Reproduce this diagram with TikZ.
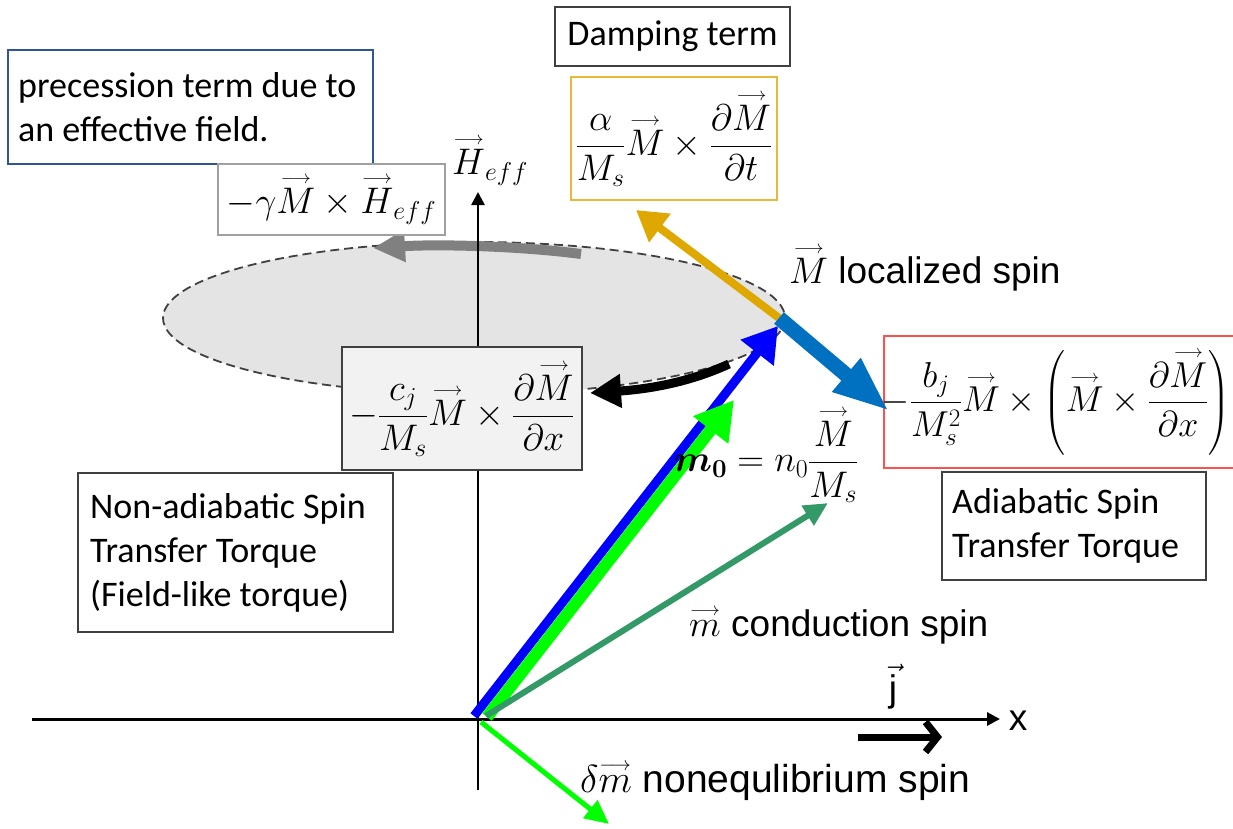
\RequirePackage{fix-cm}
\documentclass[tikz,border=0pt]{standalone}
\usepackage{amsmath,bm}
\usepackage[no-math]{fontspec}
\setmainfont{Carlito}
\newfontfamily\arialfont{Liberation Sans}
\usetikzlibrary{arrows.meta}
\newcommand{\va}[1]{{\overset{\scriptscriptstyle\longrightarrow}{#1}}}
\definecolor{goldc}{RGB}{222,168,0}
\definecolor{steelc}{RGB}{0,112,192}
\definecolor{purebl}{RGB}{0,0,255}
\definecolor{puregr}{RGB}{0,255,0}
\definecolor{dgreen}{RGB}{51,153,102}
\definecolor{garrow}{RGB}{128,128,128}
\definecolor{ellfill}{RGB}{228,228,228}
\definecolor{ellline}{RGB}{64,64,64}
\definecolor{goldbox}{RGB}{232,184,56}
\definecolor{redbox}{RGB}{255,80,80}
\definecolor{bluebox}{RGB}{47,85,151}
\definecolor{darkframe}{RGB}{64,64,64}
\definecolor{grayframe}{RGB}{160,160,160}
\definecolor{cjfill}{RGB}{242,242,242}
\begin{document}
\begin{tikzpicture}[x=1pt,y=-1pt,
  txt/.style={font=\fontsize{36}{44}\selectfont, align=left, anchor=west, inner sep=0pt},
  lab/.style={font=\arialfont\fontsize{37}{44}\selectfont, inner sep=0pt},
  mathlab/.style={font=\fontsize{37}{44}\selectfont, inner sep=0pt},
  boxframe/.style={draw=#1, line width=1.3pt, inner sep=0pt, outer sep=0pt},
]
\useasboundingbox (0,0) rectangle (1233,829);

% coordinates
\coordinate (O) at (478,718);
\coordinate (blueS) at (474,716);
\coordinate (Mtip) at (778,326);
\coordinate (Mbase) at (779,318);
\coordinate (goldtip) at (636,210);
\coordinate (steeltip) at (889,411);
\coordinate (greenS) at (487,717);
\coordinate (greentip) at (734,400);
\coordinate (dgS) at (486,716);
\coordinate (dgtip) at (828,503);
\coordinate (gdS) at (481,722);
\coordinate (gdtip) at (609,824);
\coordinate (xS) at (32,719);
\coordinate (xE) at (1000,719);
\coordinate (yS) at (478,790);
\coordinate (yE) at (478,192);
\coordinate (jS) at (858,737);
\coordinate (jE) at (942,737);
\coordinate (grS) at (581,254);
\coordinate (grE) at (373,248);
\coordinate (bkS) at (729,364);
\coordinate (bkE) at (590,393);

% precession ellipse
\draw[fill=ellfill, draw=ellline, line width=1.8pt, dash pattern=on 9pt off 5pt]
  (474,318) ellipse [x radius=311, y radius=76];

% gray precession arrow
\draw[garrow, line width=10pt, -{Triangle[length=32pt,width=30pt]}]
  (grS) .. controls (520,246) and (440,244) .. (grE);

% axes
\draw[line width=3pt, -{Triangle[length=13pt,width=13pt]}] (xS) -- (xE);
\draw[line width=2.5pt, -{Triangle[length=13pt,width=13pt]}] (yS) -- (yE);

% boxes
\node[boxframe=bluebox, minimum width=365pt, minimum height=114pt] (prec) at (190.5,107) {};
\node[txt] (prectext) at (18,107) {precession term due to\\an effective field.};
\node[boxframe=grayframe, fill=white, minimum width=227pt, minimum height=71pt] (heffbox) at (331.5,199.5)
  {\fontsize{37}{44}\selectfont$-\gamma\va{M}\times\va{H}_{eff}$};
\node[boxframe=darkframe, minimum width=235pt, minimum height=59pt, font=\fontsize{36}{44}\selectfont] (damp) at (672.5,36.5) {Damping term};
\node[boxframe=goldbox, fill=white, minimum width=206pt, minimum height=123pt] (gold) at (674,138.5)
  {\fontsize{37}{44}\selectfont$\displaystyle\frac{\alpha}{M_s}\va{M}\times\frac{\partial\va{M}}{\partial t}$};

% black field-like arrow
\draw[black, line width=9pt, -{Triangle[length=31pt,width=32pt]}]
  (bkS) .. controls (690,382) and (650,389) .. (bkE);

\node[boxframe=darkframe, fill=cjfill, minimum width=240pt, minimum height=123pt] (cj) at (462,408.5)
  {\fontsize{37}{44}\selectfont$\displaystyle-\frac{c_j}{M_s}\va{M}\times\frac{\partial\va{M}}{\partial x}$};

\node[boxframe=darkframe, minimum width=315pt, minimum height=159pt] (nonad) at (235.5,552.5) {};
\node[txt] (nonadtext) at (90,552.5) {Non-adiabatic Spin\\Transfer Torque\\(Field-like torque)};

\node[boxframe=redbox, minimum width=360pt, minimum height=132pt] (red) at (1064,402) {};
\node[inner sep=0pt] (redtext) at (1056,402)
  {\fontsize{36}{44}\selectfont$\displaystyle-\frac{b_j}{M_s^2}\va{M}\times\left(\va{M}\times\frac{\partial\va{M}}{\partial x}\right)$};

\node[boxframe=darkframe, minimum width=264pt, minimum height=108pt] (adiab) at (1074,526) {};
\node[txt] (adiabtext) at (952,526) {Adiabatic Spin\\Transfer Torque};

% spin vectors
\draw[purebl, line width=9pt, -{Triangle[length=34pt,width=40pt]}] (blueS) -- (Mtip);
\draw[puregr, line width=12pt, -{Triangle[length=38pt,width=42pt]}] (greenS) -- (greentip);
\draw[dgreen, line width=6pt, -{Triangle[length=24pt,width=22pt]}] (dgS) -- (dgtip);
\draw[puregr, line width=5pt, -{Triangle[length=24pt,width=22pt]}] (gdS) -- (gdtip);
\draw[goldc, line width=8pt, -{Triangle[length=30pt,width=34pt]}] (Mbase) -- (goldtip);
\draw[steelc, line width=15pt, -{Triangle[length=56pt,width=40pt]}] (Mbase) -- (steeltip);

% current arrow
\draw[black, line width=7pt, -{Straight Barb[length=12pt,width=30pt]}] (jS) -- (jE);

% labels
\node[mathlab, anchor=west] (heff) at (452,160) {$\va{H}_{eff}$};
\node[lab, anchor=west] (loc) at (789,268) {$\va{M}$ localized spin};
\node[mathlab] (m0) at (766,455) {$\bm{m_0}=n_0\dfrac{\va{M}}{M_s}$};
\node[lab, anchor=west] (cond) at (689,625) {$\va{m}$ conduction spin};
\node[lab, anchor=west, font=\arialfont\fontsize{39}{44}\selectfont] (noneq) at (580,781) {$\delta\va{m}$ nonequlibrium spin};
\node[lab] (jlab) at (893,687) {$\vec{\text{\arialfont j}}$};
\node[lab] (xlab) at (1018,721) {x};
\end{tikzpicture}
\end{document}
